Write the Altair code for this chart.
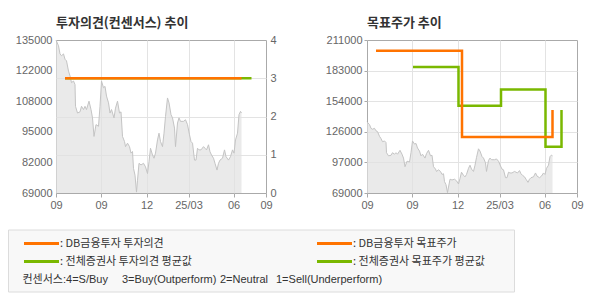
import json
import altair as alt
import pandas as pd

# ---------------- data ----------------
# day offset from the left edge of the time axis, and closing price
price_day = [0, 5, 8, 11, 15, 18, 21, 25, 28, 31, 35, 38, 39, 43, 48, 51, 55, 58, 61, 66,
             70, 73, 76, 80, 85, 88, 91, 95, 98, 101, 105, 108, 111, 116, 119, 123, 127, 130,
             133, 137, 139, 143, 147, 150, 153, 155, 158, 161, 163, 166, 170, 175, 179, 183,
             186, 189, 193, 196, 199, 203, 206, 209, 213, 216, 219, 223, 226, 230, 233, 237,
             239, 243, 246, 249, 255, 259, 263, 267, 270, 273, 277, 280, 283, 286, 290, 295,
             298, 301, 305, 308, 311, 315, 318, 322, 325, 328, 333, 337, 340, 345, 349, 353,
             356, 359, 363, 366, 369, 371]
price_value = [135000, 132500, 129000, 128200, 129000, 126700, 126000, 121600, 119500, 116600,
               117300, 115800, 106400, 103500, 104000, 106400, 105000, 106400, 105000, 108600,
               105000, 101400, 93400, 98500, 97800, 106400, 117300, 114400, 115000, 110800,
               107900, 103500, 105000, 101400, 105600, 108600, 103500, 104000, 93400, 91200,
               89000, 90500, 89000, 86200, 86900, 79600, 76700, 69400, 74500, 81800, 81100,
               81800, 80300, 77400, 82500, 88300, 85400, 84000, 86200, 91900, 94800, 91200,
               89000, 94800, 102000, 110000, 107900, 102800, 101400, 97000, 89000, 99200,
               101400, 99900, 99900, 100600, 98500, 94100, 91200, 90500, 83200, 83200, 88300,
               87600, 87600, 89000, 88300, 87600, 89800, 86800, 85400, 84000, 81800, 78900,
               81800, 83200, 84000, 87600, 84700, 83200, 84700, 87600, 86200, 91900, 94800,
               102800, 104200, 103500]

x_tick_days = [0, 90, 181, 265, 355, 420]
x_tick_labels = ["09", "09", "12", "25/03", "06", "09"]

left_tick_values = [69000, 82200, 95400, 108600, 121800, 135000]
left_tick_labels = ["69000", "82000", "95000", "108000", "122000", "135000"]
right_tick_values = [69000, 97400, 125800, 154200, 182600, 211000]
right_tick_labels = ["69000", "97000", "126000", "154000", "183000", "211000"]
opinion_ticks = [0, 1, 2, 3, 4]

# investment opinion (4=S/Buy ... 1=Sell)
opinion_db_day = [18, 371]
opinion_db_value = [3, 3]
opinion_avg_day = [18, 391]
opinion_avg_value = [3, 3]

# target price
target_db_day = [18, 190, 190, 371, 371]
target_db_value = [201000, 201000, 121000, 121000, 146000]
target_avg_day = [92, 183, 183, 268, 268, 357, 357, 389, 389]
target_avg_value = [186000, 186000, 150000, 150000, 165000, 165000, 112000, 112000, 146000]

title_left = "투자의견(컨센서스) 추이"
title_right = "목표주가 추이"
legend_labels = [": DB금융투자 투자의견", ": 전체증권사 투자의견 평균값",
                 ": DB금융투자 목표주가", ": 전체증권사 목표주가 평균값"]
legend_note = ["컨센서스:4=S/Buy", "3=Buy(Outperform)", "2=Neutral", "1=Sell(Underperform)"]

# ---------------- styles ----------------
ORANGE = "#FF7300"
GREEN = "#7AB800"
GRID = "#e3e3e3"
FRAME = "#aaaaaa"
LABEL = "#666666"
KFONT = "Noto Sans CJK KR"
NFONT = "Liberation Sans"
MIXFONT = "Liberation Sans, Noto Sans CJK KR"
W, H = 210, 153
X_MAX = 420
LEFT = 55  # left extent of the first column (legend is positioned relative to it)


def label_expr(values, labels):
    return f"{json.dumps(labels)}[indexof({json.dumps(values)}, datum.value)]"


def edge_hidden(lo, hi):
    return {"condition": {"test": f"datum.value <= {lo} || datum.value >= {hi}", "value": 0},
            "value": 1}


df_price = pd.DataFrame({"day": price_day, "price": price_value})

x_scale = alt.Scale(domain=[0, X_MAX], nice=False, zero=False)
x_axis = alt.Axis(values=x_tick_days, labelExpr=label_expr(x_tick_days, x_tick_labels),
                  grid=True, gridColor=GRID, gridOpacity=edge_hidden(0, X_MAX),
                  domain=False, ticks=True, tickSize=4, tickColor=FRAME,
                  labelPadding=2, labelFlush=False, labelOverlap=False,
                  minExtent=25, maxExtent=25, title=None)
X = alt.X("day:Q", scale=x_scale, axis=x_axis)


def price_area(scale, axis):
    return alt.Chart(df_price).mark_area(
        color="#e1e1e1", line={"color": "#c4c4c4", "strokeWidth": 1}
    ).encode(
        x=X,
        y=alt.Y("price:Q", scale=scale, axis=axis),
        y2=alt.datum(scale.domain[0]),
    )


def step_line(days, values, color, yscale, yaxis):
    df = pd.DataFrame({"day": days, "v": values, "seq": list(range(len(days)))})
    return alt.Chart(df).mark_line(color=color, strokeWidth=2.5).encode(
        x=X,
        y=alt.Y("v:Q", scale=yscale, axis=yaxis),
        order=alt.Order("seq:Q"),
    )


def title(text):
    return alt.TitleParams(text, anchor="start", frame="group", fontSize=13, font=KFONT,
                           fontWeight="bold", color="#333333", offset=4.5)


# ---------------- left chart ----------------
lp_scale = alt.Scale(domain=[69000, 135000], nice=False, zero=False)
left_axis = alt.Axis(values=left_tick_values, labelExpr=label_expr(left_tick_values, left_tick_labels),
                     grid=False, ticks=False, domain=False, labelPadding=4,
                     labelFlush=False, labelOverlap=False, minExtent=LEFT, title=None)
area_left = price_area(lp_scale, left_axis)

op_scale = alt.Scale(domain=[0, 4], nice=False, zero=True)
op_axis = alt.Axis(orient="right", values=opinion_ticks, format="d", grid=True, gridColor=GRID,
                   gridOpacity=edge_hidden(0, 4), ticks=False, domain=False, labelPadding=4,
                   labelFlush=False, labelOverlap=False, minExtent=20, title=None)
op_avg = step_line(opinion_avg_day, opinion_avg_value, GREEN, op_scale, op_axis)
op_db = step_line(opinion_db_day, opinion_db_value, ORANGE, op_scale, op_axis)

left = alt.layer(area_left, alt.layer(op_avg, op_db)).resolve_scale(y="independent").properties(
    width=W, height=H, title=title(title_left))

# ---------------- right chart ----------------
tp_scale = alt.Scale(domain=[69000, 211000], nice=False, zero=False)
right_axis = alt.Axis(values=right_tick_values, labelExpr=label_expr(right_tick_values, right_tick_labels),
                      grid=True, gridColor=GRID, gridOpacity=edge_hidden(69000, 211000),
                      ticks=True, tickSize=3, tickColor=FRAME, domain=False, labelPadding=2,
                      labelFlush=False, labelOverlap=False, minExtent=45, title=None)
area_right = price_area(tp_scale, right_axis)
tp_avg = step_line(target_avg_day, target_avg_value, GREEN, tp_scale, right_axis)
tp_db = step_line(target_db_day, target_db_value, ORANGE, tp_scale, right_axis)

right = alt.layer(area_right, tp_avg, tp_db).properties(
    width=W, height=H, title=title(title_right))

top = alt.hconcat(left, right, spacing=34)

# ---------------- legend box ----------------
lbase = alt.Chart(pd.DataFrame({"k": [0]}))
box = lbase.mark_rect(fill="#f8f8f8", stroke="#dcdcdc", strokeWidth=1).encode(
    x=alt.value(7.5 - LEFT), x2=alt.value(513.5 - LEFT), y=alt.value(10), y2=alt.value(72))


def key_line(x0, y, color):
    return lbase.mark_rule(color=color, strokeWidth=3).encode(
        x=alt.value(x0 - LEFT), x2=alt.value(x0 + 35 - LEFT), y=alt.value(y))


def key_text(x0, y, txt, font):
    return lbase.mark_text(align="left", baseline="middle", font=font, fontSize=11,
                           color="#333333").encode(x=alt.value(x0 - LEFT), y=alt.value(y),
                                                   text=alt.value(txt))


legend_layers = [
    box,
    key_line(23, 23.5, ORANGE), key_text(59, 23.5, legend_labels[0], KFONT),
    key_line(23, 41.5, GREEN), key_text(59, 41.5, legend_labels[1], KFONT),
    key_line(316, 23.5, ORANGE), key_text(352, 23.5, legend_labels[2], KFONT),
    key_line(316, 41.5, GREEN), key_text(352, 41.5, legend_labels[3], KFONT),
    key_text(21.5, 60, legend_note[0], MIXFONT), key_text(121, 60, legend_note[1], MIXFONT),
    key_text(219, 60, legend_note[2], MIXFONT), key_text(275, 60, legend_note[3], MIXFONT),
]
legend = alt.layer(*legend_layers).properties(
    width=460, height=75, view=alt.ViewBackground(stroke="transparent"))

chart = alt.vconcat(top, legend, spacing=0).properties(
    padding={"left": 0, "top": 16, "right": 0, "bottom": 0},
    background="white",
).configure_view(stroke=FRAME, strokeWidth=1).configure_axis(
    labelFont=NFONT, labelFontSize=11, labelColor=LABEL, gridWidth=1,
)

chart.save("out.html", embed_options={"renderer": "svg", "actions": False})
